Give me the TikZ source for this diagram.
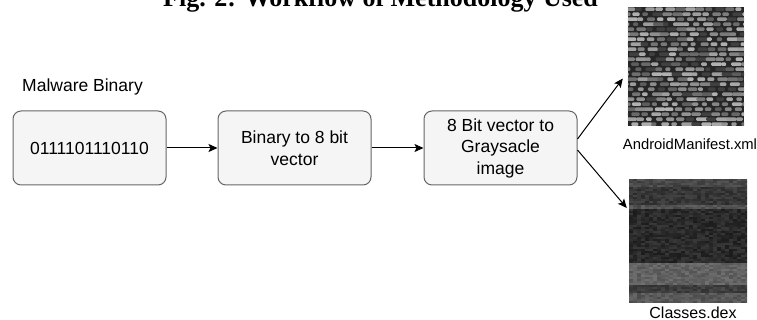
\documentclass[tikz,border=0pt]{standalone}
\usepackage{fontspec}
\setmainfont{Liberation Sans}
\newfontfamily\titlefont{Liberation Serif}
\usetikzlibrary{positioning, arrows.meta}

\begin{document}
\begin{tikzpicture}[
    x=1pt, y=-1pt,
    box/.style={draw=black!60, fill=black!4, rounded corners=8pt, line width=1pt,
                minimum width=153pt, minimum height=74pt, align=center,
                font=\fontsize{17.5}{21.5}\selectfont},
    lbl/.style={font=\fontsize{17.5}{21}\selectfont, inner sep=0pt},
    imgbox/.style={inner sep=0pt, minimum width=116pt, minimum height=119pt},
    imglbl/.style={inner sep=0pt, anchor=base},
    arrow/.style={-{Stealth[length=9pt, width=8pt, inset=2pt]}, line width=1pt},
]
\useasboundingbox (0,0) rectangle (757,320);
\clip (0,0) rectangle (757,320);

% ── Caption (cut at the top) ─────────────────────────────────────────────
\node[anchor=base west, inner sep=0pt,
      font=\titlefont\bfseries\fontsize{26}{30}\selectfont] (title) at (163,6.5)
    {Fig. 2: Workflow of Methodology Used};

% ── Pipeline boxes ───────────────────────────────────────────────────────
\node[lbl, anchor=base west] (mbl) at (22,92) {Malware Binary};
\node[box] (bin) at (89.5,148) {0111101110110};
\node[box, right=51pt of bin] (vec) {Binary to 8 bit\\vector};
\node[box, right=52pt of vec] (gray) {8 Bit vector to\\Graysacle\\image};
\draw[arrow] (bin) -- (vec);
\draw[arrow] (vec) -- (gray);

% ── AndroidManifest.xml picture ──────────────────────────────────────────
\node[imgbox] (man) at (686,66.5) {};
\begin{scope}
  \clip (man.south west) rectangle (man.north east);
  \fill[black!85] (man.south west) rectangle (man.north east);
  \pgfmathsetseed{11}
  \foreach \row in {0,...,23} {
    \pgfmathsetmacro{\off}{-mod(\row,2)*5 - rnd*4}
    \foreach \col in {0,...,12} {
      \pgfmathsetmacro{\g}{rnd<0.15 ? 75 : int(30+rnd*35)}
      \pgfmathsetmacro{\w}{5+rnd*7}
      \fill[black!\g, rounded corners=1pt] (628+\off+\col*10, 7.5+\row*5) rectangle ++(\w, 3.4);
    }
  }
\end{scope}
\node[imglbl, font=\fontsize{14.8}{17}\selectfont] (manl) at (690,150)
    {AndroidManifest.xml};

% ── Classes.dex picture ──────────────────────────────────────────────────
\node[imgbox, minimum width=118pt, minimum height=123pt] (dex) at (688,240.5) {};
\begin{scope}
  \clip (dex.south west) rectangle (dex.north east);
  \pgfmathsetseed{5}
  \foreach \ytop/\nrows/\base in {179/4/72, 187/9/79, 205/2/68, 209/27/84,
                                  263/11/62, 285/4/76, 293/5/66} {
    \foreach \k in {1,...,\nrows} {
      \foreach \col in {0,...,29} {
        \pgfmathsetmacro{\g}{int(\base-6+rnd*12)}
        \fill[black!\g] (629+\col*4, \ytop+\k*2-2) rectangle ++(4.1,2.1);
      }
    }
  }
\end{scope}
\node[imglbl, font=\fontsize{16}{19}\selectfont] (dexl) at (693,318) {Classes.dex};

% ── Split to the two pictures ────────────────────────────────────────────
\draw[arrow] ([yshift=9pt]gray.east) -- ([xshift=-5pt, yshift=-12pt]man.west);
\draw[arrow] ([yshift=-2pt]gray.east) -- ([xshift=-2pt, yshift=32.5pt]dex.west);

\end{tikzpicture}
\end{document}
